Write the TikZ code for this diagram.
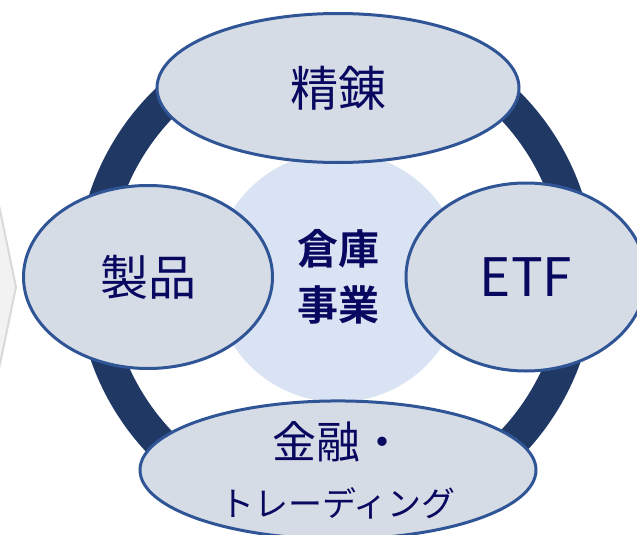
\documentclass[tikz,border=0pt]{standalone}
\usepackage{fontspec}
\setmainfont{Noto Sans CJK JP}[BoldFont={Noto Sans CJK JP Bold}]
\usepackage{tikz}
\usetikzlibrary{shapes,positioning}
\definecolor{ringblue}{RGB}{32,56,100}
\definecolor{edgeblue}{RGB}{47,85,151}
\definecolor{blobfill}{RGB}{214,220,229}
\definecolor{hubfill}{RGB}{218,227,243}
\definecolor{textnavy}{RGB}{8,8,96}
\definecolor{chevfill}{RGB}{242,242,242}
\definecolor{chevedge}{RGB}{217,217,217}

\begin{document}
\begin{tikzpicture}[x=1pt,y=-1pt,on grid,
    blob/.style={ellipse, draw=edgeblue, fill=blobfill, line width=3pt, inner sep=0pt, text=textnavy, align=center},
    hubstyle/.style={circle, fill=hubfill, minimum size=250pt, inner sep=0pt, text=textnavy, align=center}]
           \clip (0,0) rectangle (637,535);
           % chevron at the left edge
           \filldraw[fill=chevfill, draw=chevedge, line width=2pt] (-20,114) -- (16,287) -- (-20,460) -- cycle;
           % ring
           \draw[ringblue, line width=33pt] (336,275) circle (243pt);
           \node[hubstyle, font=\bfseries\fontsize{41}{56}\selectfont] (hub) at (338,277) {倉庫\\事業};
           \node[blob, minimum width=362pt, minimum height=149pt, font=\fontsize{48}{48}\selectfont] (seiren) [above=189pt of hub] {精錬};
           \node[blob, minimum width=249pt, minimum height=183pt, font=\fontsize{48}{48}\selectfont] (seihin) [left=190pt of hub] {製品};
           \node[blob, minimum width=240pt, minimum height=188pt, font=\fontsize{53}{53}\selectfont] (etf) [right=188pt of hub] {ETF};
           \node[blob, minimum width=396pt, minimum height=130pt, font=\fontsize{44}{58}\selectfont] (kinyu) [below=193pt of hub]
                {金融・\\{\fontsize{34}{58}\selectfont トレーディング}};
        \end{tikzpicture}
\end{document}
